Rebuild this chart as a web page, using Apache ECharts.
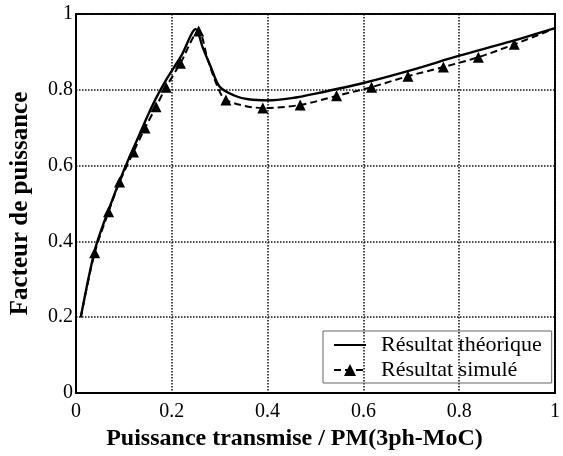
<!DOCTYPE html>
<html>
<head>
    <meta charset="utf-8">
    <script type="text/javascript" src="https://cdn.jsdelivr.net/npm/echarts@6/dist/echarts.min.js"></script>
    <title>Facteur de puissance</title>
</head>
<body style="margin:0;background:#fff;">
    <div id="container" style="width:563px;height:456px;"></div>
    <script type="text/javascript">
    // courbe théorique (trait plein)
    var theoX = [0.01, 0.04, 0.07, 0.10, 0.13, 0.16, 0.19, 0.22, 0.25, 0.265, 0.28, 0.30, 0.33, 0.36, 0.40, 0.45, 0.50, 0.60, 0.70, 0.80, 0.90, 1.00];
    var theoY = [0.20, 0.38, 0.49, 0.588, 0.675, 0.76, 0.83, 0.89, 0.96, 0.91, 0.865, 0.808, 0.785, 0.775, 0.772, 0.778, 0.79, 0.818, 0.852, 0.89, 0.925, 0.963];
    // résultat simulé (tirets + triangles)
    var simX = [0.01, 0.039, 0.068, 0.091, 0.12, 0.144, 0.167, 0.188, 0.218, 0.256, 0.275, 0.295, 0.313, 0.39, 0.468, 0.544, 0.617, 0.693, 0.767, 0.84, 0.915, 1.00];
    var simY = [0.20, 0.37, 0.478, 0.557, 0.636, 0.699, 0.755, 0.807, 0.87, 0.955, 0.88, 0.81, 0.773, 0.752, 0.76, 0.784, 0.807, 0.836, 0.86, 0.886, 0.92, 0.962];
    var simMarker = [false, true, true, true, true, true, true, true, true, true, false, false, true, true, true, true, true, true, true, true, true, false];
    var xTicks = ['0', '0.2', '0.4', '0.6', '0.8', '1'];
    var yTicks = ['0', '0.2', '0.4', '0.6', '0.8', '1'];

    var myChart = echarts.init(document.getElementById('container'));

    var theoData = theoX.map(function (x, i) { return [x, theoY[i]]; });
    var simData = simX.map(function (x, i) {
        return simMarker[i] ? [x, simY[i]] : { value: [x, simY[i]], symbol: 'none' };
    });

    var serif = 'Liberation Serif';
    var axisStyle = {
        type: 'value', min: 0, max: 1, interval: 0.2,
        axisLine: { show: true, lineStyle: { color: '#000', width: 2 } },
        axisTick: { show: false },
        splitLine: { show: true, lineStyle: { color: '#111', type: 'dotted', width: 1.5 } }
    };

    var option = {
        animation: false,
        backgroundColor: '#fff',
        grid: { left: 76, right: 2, top: 14, bottom: 63, show: true, borderColor: '#000', borderWidth: 2 },
        xAxis: Object.assign({}, axisStyle, {
            name: 'Puissance transmise / PM(3ph-MoC)',
            nameLocation: 'middle', nameGap: 32,
            nameTextStyle: { fontFamily: serif, fontWeight: 'bold', fontSize: 24, color: '#000', padding: [0, 42, 0, 0] },
            axisLabel: { fontFamily: serif, fontSize: 20, color: '#000', margin: 9,
                formatter: function (v) { return xTicks[Math.round(v / 0.2)]; } }
        }),
        yAxis: Object.assign({}, axisStyle, {
            name: 'Facteur de puissance',
            nameLocation: 'middle', nameGap: 43,
            nameTextStyle: { fontFamily: serif, fontWeight: 'bold', fontSize: 25, color: '#000' },
            axisLabel: { fontFamily: serif, fontSize: 20, color: '#000', margin: 3,
                formatter: function (v) { return yTicks[Math.round(v / 0.2)]; } }
        }),
        legend: {
            orient: 'vertical',
            left: 323, top: 331,
            padding: [3, 10, 2, 10],
            itemGap: 3,
            itemWidth: 32, itemHeight: 15,
            borderColor: '#666', borderWidth: 1,
            textStyle: { fontFamily: serif, fontSize: 22, color: '#000', padding: [0, 0, 0, 10] },
            data: [
                { name: 'Résultat théorique', itemStyle: { opacity: 0 } },
                { name: 'Résultat simulé' }
            ]
        },
        series: [{
            name: 'Résultat théorique',
            type: 'line',
            smooth: 0.3,
            symbol: 'none',
            lineStyle: { color: '#000', width: 2.4 },
            itemStyle: { color: '#000' },
            data: theoData
        }, {
            name: 'Résultat simulé',
            type: 'line',
            smooth: 0.3,
            symbol: 'triangle',
            symbolSize: 11,
            lineStyle: { color: '#000', width: 2, type: [7, 4] },
            itemStyle: { color: '#000' },
            data: simData
        }]
    };

    myChart.setOption(option);
    </script>
</body>
</html>
